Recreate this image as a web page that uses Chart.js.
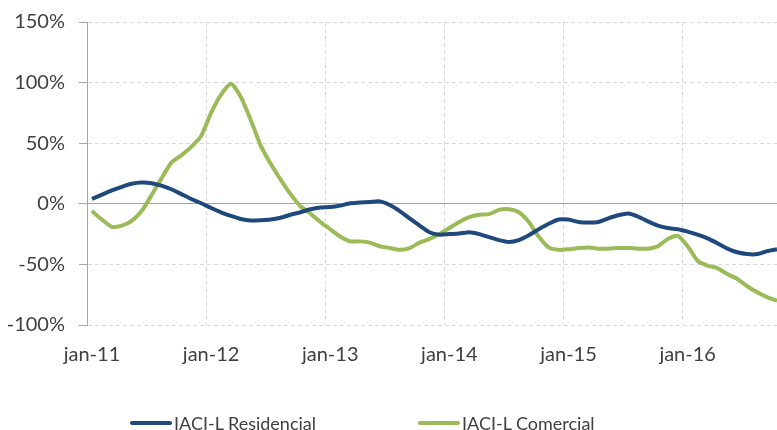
<!DOCTYPE html>
<html lang="pt-br">

<head>
  <meta charset="UTF-8">
  <title>IACI-L Residencial x Comercial</title>
  <script src="https://cdn.jsdelivr.net/npm/chart.js"></script>
  <style>
    html, body { margin: 0; padding: 0; overflow: hidden; background: #fff; }
    #area { position: relative; width: 777px; height: 430px; overflow: hidden; }
    #grafico { position: absolute; left: 0; top: 0; }
    #legenda { position: absolute; top: 410px; left: 0; width: 777px; height: 26px; font-family: Lato, sans-serif; font-size: 18px; color: #404040; }
    .item { position: absolute; top: 0; display: flex; align-items: center; height: 26px; white-space: nowrap; }
    .traco { display: inline-block; width: 42px; height: 4px; border-radius: 2px; margin-right: 2px; }
  </style>
</head>

<body>
  <div id="area">
    <canvas id="grafico" width="795" height="430"></canvas>
    <div id="legenda"></div>
  </div>

<script>
  // meses de jan-11 ate out-16
  var meses = ['jan-11', 'fev-11', 'mar-11', 'abr-11', 'mai-11', 'jun-11', 'jul-11', 'ago-11', 'set-11', 'out-11', 'nov-11', 'dez-11',
    'jan-12', 'fev-12', 'mar-12', 'abr-12', 'mai-12', 'jun-12', 'jul-12', 'ago-12', 'set-12', 'out-12', 'nov-12', 'dez-12',
    'jan-13', 'fev-13', 'mar-13', 'abr-13', 'mai-13', 'jun-13', 'jul-13', 'ago-13', 'set-13', 'out-13', 'nov-13', 'dez-13',
    'jan-14', 'fev-14', 'mar-14', 'abr-14', 'mai-14', 'jun-14', 'jul-14', 'ago-14', 'set-14', 'out-14', 'nov-14', 'dez-14',
    'jan-15', 'fev-15', 'mar-15', 'abr-15', 'mai-15', 'jun-15', 'jul-15', 'ago-15', 'set-15', 'out-15', 'nov-15', 'dez-15',
    'jan-16', 'fev-16', 'mar-16', 'abr-16', 'mai-16', 'jun-16', 'jul-16', 'ago-16', 'set-16', 'out-16'];

  // variacao em %
  var residencial = [4, 7.5, 11, 14, 16.5, 17.5, 17, 15, 12, 8, 4, 0.5,
    -3.5, -7, -10, -12.5, -13.7, -13.5, -13, -11.5, -9, -7, -4.5, -3,
    -2.7, -1.5, 0.5, 1, 1.5, 2, -1, -6, -12, -18, -23.5, -25.5,
    -25, -24.5, -23.5, -25, -27.5, -30, -31.5, -30, -26, -21, -16.5, -13,
    -13, -15, -15.5, -15, -12, -9.5, -8, -10.5, -14.5, -18, -20, -21,
    -23, -25.5, -28.5, -32.5, -37, -40, -41.5, -41.5, -39, -37.5];

  var comercial = [-6, -13, -19, -18, -14, -6, 7, 21, 34, 40, 47, 56,
    75, 90, 99, 88, 69, 48, 33, 20, 8, -2, -8, -15,
    -21, -27, -31, -31, -32, -35, -36.5, -38, -36.5, -32, -29, -25,
    -20, -15, -11, -9, -8.5, -5, -4.5, -7, -15, -27, -36, -38,
    -37.5, -36.5, -36, -37, -37, -36.5, -36.5, -37, -37, -35, -29, -26.5,
    -35, -47, -51, -53, -58, -62, -68, -73, -77, -80];

  var ticksY = [-100, -50, 0, 50, 100, 150];

  var corAzul = '#1F497D';
  var corVerde = '#9BBB59';
  var fonte = { family: 'Lato', size: 20 };

  var myChart = new Chart(document.getElementById('grafico'), {
    type: 'line',
    data: {
      labels: meses,
      datasets: [{
        label: 'IACI-L Residencial',
        data: residencial,
        borderColor: corAzul,
        backgroundColor: corAzul,
        borderWidth: 4,
        pointRadius: 0,
        tension: 0.2
      }, {
        label: 'IACI-L Comercial',
        data: comercial,
        borderColor: corVerde,
        backgroundColor: corVerde,
        borderWidth: 4,
        pointRadius: 0,
        tension: 0.2
      }]
    },
    options: {
      responsive: false,
      animation: false,
      layout: { padding: { left: 0, right: 0, top: 22, bottom: 0 } },
      plugins: {
        legend: { display: false },
        tooltip: { enabled: false }
      },
      scales: {
        x: {
          offset: true,
          grid: {
            offset: true,
            drawTicks: false,
            color: function (ctx) {
              return (ctx.index > 0 && ctx.index % 12 === 0) ? '#d9d9d9' : 'rgba(0,0,0,0)';
            }
          },
          border: { display: false, dash: [4, 3] },
          ticks: {
            autoSkip: false,
            maxRotation: 0,
            padding: 18,
            color: '#404040',
            font: fonte,
            callback: function (v, i) { return i % 12 === 0 ? meses[i] : ''; }
          },
          afterFit: function (scale) { scale.height = 430 - 325; }
        },
        y: {
          min: -100,
          max: 150,
          afterBuildTicks: function (scale) {
            scale.ticks = ticksY.map(function (v) { return { value: v }; });
          },
          grid: {
            color: function (ctx) {
              return (ctx.tick && ctx.tick.value === 0) ? '#a6a6a6' : '#d9d9d9';
            },
            tickLength: 8,
            tickColor: '#a6a6a6',
            tickBorderDash: []
          },
          border: {
            display: true,
            color: '#a6a6a6',
            width: 1,
            dash: function (ctx) {
              return (ctx.tick && ctx.tick.value === 0) ? [] : [4, 3];
            }
          },
          ticks: {
            padding: 14,
            color: '#404040',
            font: fonte,
            callback: function (v) { return v + '%'; }
          },
          afterFit: function (scale) {
            scale.width = 87;
            scale.paddingTop = 0;
            scale.paddingBottom = 0;
          }
        }
      }
    }
  });

  // legenda montada a partir dos datasets
  var posicoes = [130, 418];
  var legenda = document.getElementById('legenda');
  myChart.data.datasets.forEach(function (ds, i) {
    var item = document.createElement('div');
    item.className = 'item';
    item.style.left = posicoes[i] + 'px';
    item.innerHTML = '<span class="traco" style="background:' + ds.borderColor + '"></span>' + ds.label;
    legenda.appendChild(item);
  });
</script>
</body>

</html>
